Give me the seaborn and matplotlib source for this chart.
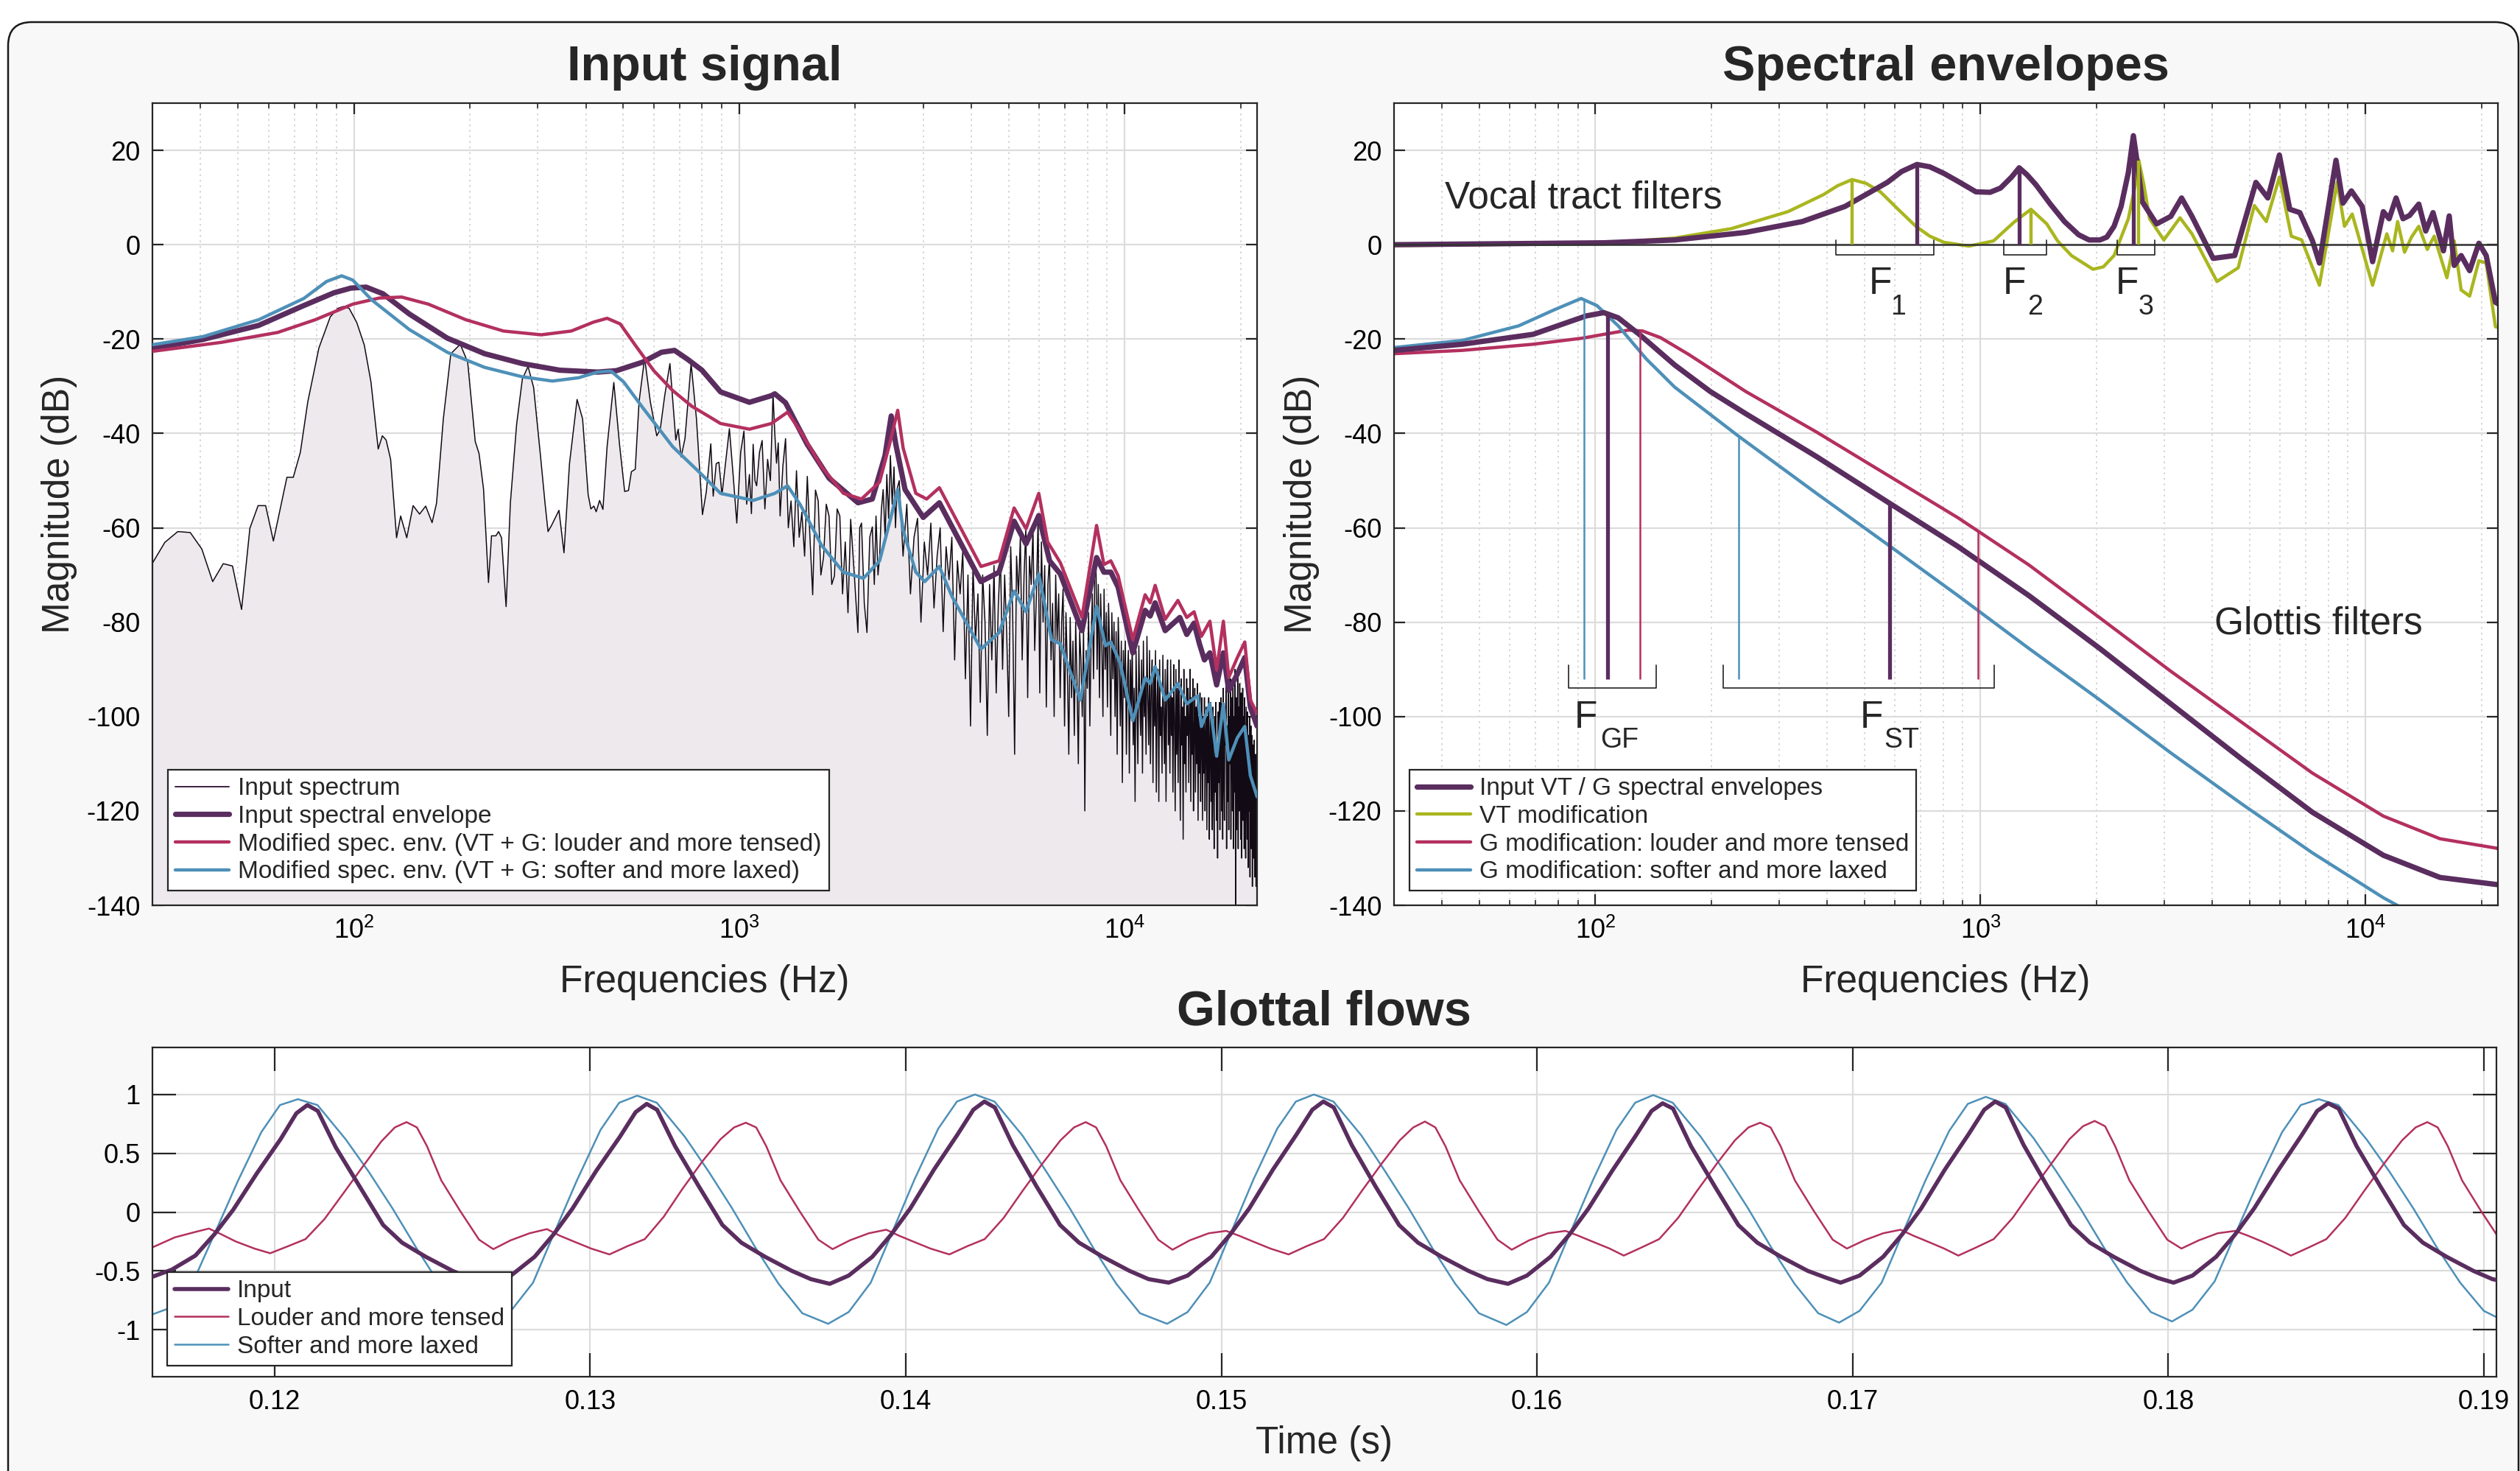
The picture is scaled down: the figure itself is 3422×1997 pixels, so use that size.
import numpy as np
import pandas as pd
import seaborn as sns
import matplotlib
matplotlib.use("Agg")
import matplotlib.pyplot as plt
from matplotlib.lines import Line2D
from matplotlib.patches import FancyBboxPatch
from matplotlib.ticker import NullFormatter, FixedLocator

# ------------------------------------------------------------------ data
# Input signal panel: measured spectrum (Hz, dB), read point by point up to 2.6 kHz
input_spectrum_low = [
    (29.9, -67.7), (32.3, -63.1), (34.9, -60.8), (37.6, -61.0), (40.3, -64.5), (43.0, -71.4),
    (45.8, -67.6), (48.4, -68.1), (51.1, -77.3), (53.7, -60.1), (56.4, -55.3), (59.0, -55.3),
    (61.8, -62.8), (67.0, -49.3), (69.6, -49.3), (72.6, -44.0), (75.9, -33.3), (81.1, -21.9),
    (86.8, -15.3), (90.8, -13.5), (93.9, -13.1), (97.2, -13.5), (101.7, -16.5), (106.4, -21.3),
    (110.7, -29.1), (115.6, -43.3), (118.5, -40.5), (121.2, -41.4), (124.5, -45.5), (129.0, -62.1),
    (132.2, -57.5), (137.1, -62.1), (142.4, -55.3), (148.0, -57.1), (153.5, -55.4), (159.5, -58.9),
    (163.8, -54.8), (170.6, -36.9), (178.4, -23.1), (188.8, -21.1), (197.3, -24.9), (206.4, -41.7),
    (211.2, -44.3), (216.9, -51.8), (223.4, -71.6), (227.5, -61.7), (233.5, -61.7), (237.3, -60.8),
    (241.5, -62.1), (248.2, -76.7), (254.6, -54.8), (264.3, -38.1), (273.5, -28.5), (283.0, -25.8),
    (292.6, -30.3), (304.7, -44.6), (313.2, -54.8), (318.9, -60.8), (325.6, -59.5), (340.4, -56.3),
    (350.8, -65.3), (362.5, -46.4), (379.3, -32.8), (392.0, -36.9), (405.3, -53.0), (411.9, -56.0),
    (419.4, -55.4), (425.2, -56.6), (433.9, -54.2), (442.7, -56.1), (453.8, -42.8), (472.4, -29.2),
    (488.6, -42.2), (504.0, -52.3), (515.6, -52.1), (524.8, -48.1), (536.9, -47.6), (549.3, -33.3),
    (567.9, -24.0), (587.5, -33.3), (610.6, -40.5), (623.3, -39.2), (640.0, -32.1), (660.6, -25.2),
    (684.2, -41.4), (693.8, -39.1), (706.3, -45.0), (722.7, -41.1), (749.7, -25.2), (774.0, -36.9),
    (802.3, -57.2), (820.9, -52.4), (843.3, -42.2), (855.5, -53.3), (871.1, -46.4), (885.0, -46.1),
    (901.5, -53.0), (942.4, -39.0), (963.6, -48.8), (985, -59.0), (1008, -44.0), (1028, -39.5),
    (1045, -55.0), (1062, -48.7), (1075, -57.0), (1086, -42.3), (1098, -50.0), (1109, -51.1),
    (1128, -44.0), (1146, -41.5), (1165, -56.0), (1184, -45.5), (1204, -50.0), (1223, -31.6),
    (1236, -40.0), (1249, -46.3), (1262, -42.0), (1276, -57.5), (1297, -47.0), (1318, -41.1),
    (1340, -60.0), (1362, -54.3), (1385, -64.0), (1407, -47.9), (1430, -62.0), (1453, -56.7),
    (1477, -66.0), (1501, -49.1), (1525, -62.0), (1550, -74.2), (1576, -52.0), (1602, -54.3),
    (1628, -70.0), (1654, -66.2), (1681, -55.0), (1709, -57.5), (1737, -72.0), (1765, -70.2),
    (1794, -56.0), (1823, -57.5), (1853, -74.0), (1883, -63.0), (1914, -78.0), (1945, -58.2),
    (1988, -70.0), (2031, -82.2), (2053, -60.0), (2075, -59.0), (2110, -76.0), (2144, -82.2),
    (2180, -62.0), (2214, -59.8), (2240, -72.0), (2263, -57.5), (2290, -70.0), (2312, -66.2),
    (2337, -56.0), (2362, -51.9), (2390, -62.0), (2414, -48.7), (2440, -58.0), (2466, -44.7),
    (2493, -55.0), (2520, -47.1), (2542, -60.0), (2564, -51.9),
]
# above 2.6 kHz the spectrum is read as one value per 60 Hz bin (2600 ... 22040 Hz)
spec_hf_start, spec_hf_step = 2600, 60
spec_hf_db = [
    -50, -66, -55, -74, -62, -58, -80, -63, -70, -59, -77, -66, -60, -82, -64, -71, -62, -88, -67, -74, -65, -92, -70, -102, -68,
    -84, -74, -97, -70, -80, -104, -72, -88, -68, -95, -76, -66, -90, -70, -82, -100, -64, -78, -108, -66, -74, -62, -88, -70, -60,
    -96, -66, -72, -60, -86, -74, -58, -95, -63, -80, -68, -98, -72, -66, -88, -76, -100, -70, -84, -74, -96, -80, -73, -102, -78,
    -90, -108, -79, -96, -84, -104, -80, -92, -110, -82, -88, -100, -81, -120, -86, -94, -78, -102, -84, -74, -92, -70, -66, -90, -72,
    -96, -74, -84, -100, -73, -90, -78, -98, -76, -86, -104, -78, -92, -80, -100, -82, -108, -79, -88, -102, -84, -114, -86, -96, -84,
    -108, -92, -86, -112, -88, -100, -84, -106, -94, -118, -86, -98, -110, -85, -96, -104, -88, -112, -84, -100, -92, -108, -83, -96, -106,
    -86, -110, -94, -88, -114, -90, -102, -86, -116, -96, -90, -118, -88, -104, -98, -112, -87, -100, -110, -90, -118, -94, -88, -106, -96,
    -112, -88, -104, -96, -116, -89, -100, -120, -90, -108, -94, -114, -88, -102, -122, -92, -106, -98, -126, -90, -110, -100, -116, -92, -104,
    -94, -114, -100, -90, -118, -96, -108, -92, -120, -102, -94, -116, -98, -110, -93, -122, -100, -112, -95, -118, -104, -96, -122, -100, -112,
    -96, -120, -104, -98, -124, -100, -114, -96, -126, -106, -97, -118, -102, -124, -98, -112, -128, -100, -116, -97, -122, -106, -130, -99, -114,
    -97, -124, -104, -96, -120, -100, -126, -94, -112, -122, -98, -106, -93, -128, -102, -118, -94, -124, -100, -110, -92, -126, -104, -96, -120,
    -92, -128, -100, -116, -90, -140, -96, -124, -106, -91, -128, -98, -120, -93, -112, -126, -95, -130, -104, -94, -122, -100, -128, -96, -116,
    -130, -98, -112, -126, -99, -132, -104, -120, -100, -134, -108, -102, -128, -104, -136, -110, -106, -130, -105, -134, -112, -108, -136, -110, -126,
]

env_in_freq = [30, 40.5, 56.6, 74.1, 88.7, 98.2, 107.6, 118.9, 139.3, 174.6,
               218.3, 273.5, 342, 428.5, 479.7, 561, 628, 679, 734.5, 800,
               894, 1062, 1211, 1236, 1318, 1500, 1710, 2032, 2213, 2388,
               2478, 2547, 2692, 3000, 3304, 3565, 4236, 4721, 5164, 5546,
               5984, 6383, 6808, 7745, 8453, 8831, 9204, 9616, 10495, 11298,
               11641, 11995, 12735, 13900, 14488, 15136, 15631, 16100, 16636, 17320,
               18030, 18620, 19600, 20490, 21184, 22050]
env_in_db = [-22.0, -20.1, -17.1, -12.9, -10.2, -9.2, -9.0, -10.4, -14.7, -19.8,
             -23.1, -25.2, -26.6, -27.0, -26.7, -24.9, -22.8, -22.4, -24.3, -26.6,
             -31.2, -33.4, -32.0, -31.6, -33.5, -42.3, -49.5, -54.7, -53.9, -44.7,
             -36.3, -42.3, -51.9, -57.8, -54.7, -59.8, -71.4, -69.4, -58.6, -63.4,
             -57.4, -67.0, -69.8, -81.8, -66.3, -69.4, -69.4, -72.6, -86.5, -77.5,
             -78.7, -75.9, -81.8, -79.0, -82.6, -80.2, -84.6, -88.0, -86.5, -93.3,
             -86.5, -94.5, -91.0, -87.5, -98.0, -102.0]

env_loud_freq = [30, 45.3, 63.4, 79.4, 99.3, 116.4, 133.0, 156.0, 195.0, 244.3,
                 306.2, 366.4, 418.8, 453.9, 490.9, 537.0, 599.8, 671.4, 751.6, 841.4,
                 894, 1062, 1211, 1334, 1439, 1637, 1862, 2075, 2312, 2466,
                 2576, 2661, 2871, 3062, 3304, 3565, 4236, 4721, 5164, 5546,
                 5984, 6310, 6808, 7745, 8453, 8831, 9204, 9616, 10495, 11298,
                 11641, 11995, 12735, 13740, 14488, 15136, 15812, 16636, 17320, 18030,
                 18620, 19600, 20490, 21184, 22050]
env_loud_db = [-22.6, -20.7, -18.6, -15.9, -12.6, -11.3, -11.1, -12.6, -15.9, -18.3,
               -19.1, -18.3, -16.4, -15.6, -16.8, -21.3, -26.7, -30.9, -34.2, -36.6,
               -37.9, -39.1, -37.9, -35.5, -39.5, -47.1, -52.7, -53.9, -50.3, -41.6,
               -35.1, -43.1, -52.7, -53.9, -51.5, -56.6, -68.2, -67.0, -55.8, -60.2,
               -52.7, -63.0, -67.4, -79.0, -59.5, -67.8, -67.0, -70.2, -83.7, -74.2,
               -75.9, -72.2, -79.4, -75.4, -79.0, -77.8, -83.0, -79.8, -90.1, -79.8,
               -91.7, -87.5, -84.2, -96.5, -99.3]

env_soft_freq = [30, 40.5, 56.6, 74.1, 84.9, 92.9, 99.3, 111.2, 139.3, 174.6,
                 218.3, 273.5, 327.3, 382.8, 428.5, 464.5, 501.2, 561.0, 671.4, 794,
                 894, 1086, 1236, 1334, 1439, 1637, 1862, 2099, 2312, 2466,
                 2576, 2661, 2871, 3027, 3304, 3565, 4236, 4721, 5164, 5546,
                 5984, 6457, 6808, 7674, 8453, 8913, 9204, 9727, 10495, 11298,
                 11641, 11995, 12735, 13740, 14488, 15452, 15812, 16636, 17320, 18030,
                 18620, 19600, 20490, 21184, 22050]
env_soft_db = [-21.2, -19.5, -15.9, -11.4, -7.8, -6.6, -7.5, -11.7, -18.0, -22.8,
               -26.0, -28.0, -28.9, -28.2, -27.0, -26.8, -29.1, -34.5, -42.8, -48.5,
               -52.7, -54.2, -52.7, -51.1, -55.1, -63.8, -69.4, -70.7, -67.0, -58.2,
               -51.9, -60.6, -69.4, -71.4, -68.2, -74.6, -85.7, -82.2, -73.4, -77.8,
               -69.8, -83.7, -84.6, -96.5, -76.6, -85.0, -84.2, -88.6, -100.9, -91.8,
               -93.0, -89.4, -96.5, -93.0, -97.3, -95.6, -102.1, -97.3, -108.4, -97.3,
               -109.2, -104.5, -102.1, -112.5, -117.0]

# Spectral envelopes panel: vocal-tract filters
vt_in_freq = [30, 105.2, 160.7, 245.5, 344.4, 444.6, 572.8, 623.7, 684, 738.5,
              803.5, 874.9, 972.9, 1059, 1127, 1203, 1260, 1321, 1393, 1518,
              1652, 1798, 1914, 2042, 2128, 2222, 2317, 2420, 2494, 2557,
              2630, 2864, 3119, 3327, 3540, 4018, 4571, 5188, 5572, 5970,
              6353, 6745, 7278, 7586, 8375, 8730, 9183, 9795, 10423, 11117,
              11508, 11995, 12503, 13002, 13740, 14322, 14962, 15922, 16482, 16982,
              17701, 18621, 19679, 20559, 21727, 22050]
vt_in_db = [0.0, 0.4, 1.0, 2.6, 4.9, 8.1, 13.2, 15.5, 17.0, 16.5,
            15.1, 13.4, 11.2, 11.1, 12.0, 14.3, 16.3, 14.8, 12.7, 8.6,
            4.9, 2.1, 1.0, 1.0, 1.6, 3.9, 8.1, 15.3, 23.1, 16.9,
            9.1, 4.4, 6.0, 9.9, 6.0, -2.9, -2.3, 13.2, 9.9, 19.0,
            7.5, 6.8, 0.8, -3.9, 17.9, 8.8, 11.4, 8.1, -3.6, 7.0,
            5.5, 9.9, 5.5, 6.2, 8.6, 2.9, 6.8, -1.3, 6.1, -4.4,
            -2.3, -5.5, 0.3, -2.3, -12.2, -12.5]

vt_mod_freq = [30, 105.2, 160.7, 225.4, 316.2, 351.6, 390.8, 425.6, 464, 504.5,
               549.5, 610.9, 679.2, 738.5, 803.5, 933.3, 1081, 1153, 1227, 1352,
               1486, 1585, 1722, 1959, 2084, 2222, 2420, 2523, 2576, 2655,
               2748, 2992, 3296, 3540, 4111, 4667, 5140, 5521, 5970, 6412,
               6823, 7586, 8433, 8810, 9226, 10423, 11350, 11749, 12106, 12618,
               13152, 13740, 14454, 15066, 16255, 16982, 17701, 18621, 19679, 20559,
               21727, 22050]
vt_mod_db = [-0.2, 0.3, 1.4, 3.4, 7.0, 8.8, 10.6, 12.5, 13.8, 13.0,
             11.2, 7.5, 3.9, 1.8, 0.5, -0.3, 0.8, 2.9, 4.9, 7.5,
             4.4, 0.8, -2.3, -5.2, -4.7, -2.3, 5.5, 12.7, 17.9, 12.7,
             5.5, 1.0, 5.7, 2.3, -7.8, -4.9, 8.3, 4.9, 14.3, 1.8,
             1.0, -8.6, 13.2, 3.9, 6.5, -8.6, 2.3, -1.3, 4.9, -1.6,
             1.6, 3.9, -1.0, 1.8, -7.0, 0.8, -9.6, -10.9, -3.4, -3.9,
             -17.4, -17.5]

# Spectral envelopes panel: glottis filters
g_in_freq = [30, 45.1, 68.9, 85.1, 94.6, 105.2, 114.6, 130.0, 160.7, 198.6, 245.5, 375.0,
             572.8, 874.9, 1337, 2042, 3119, 4764, 7278, 11117, 15596, 21878, 22050]
g_in_db = [-22.4, -21.1, -19.0, -16.4, -15.1, -14.4, -15.5, -19.0, -25.5, -31.1, -35.8, -44.9,
           -54.5, -64.0, -74.4, -85.6, -97.3, -109.0, -120.3, -129.4, -134.1, -135.6, -135.6]
g_loud_freq = [30, 45.1, 68.9, 92.7, 105.2, 121.9, 132.7, 147.6, 175.0, 245.5, 375.0,
               572.8, 874.9, 1337, 2042, 3119, 4764, 7278, 11117, 15596, 21878, 22050]
g_loud_db = [-23.1, -22.4, -21.1, -19.8, -19.0, -18.1, -18.3, -19.7, -23.3, -31.1, -39.7,
             -48.8, -57.9, -67.9, -79.1, -90.4, -101.2, -112.0, -121.1, -125.9, -127.9, -128.0]
g_soft_freq = [30, 45.1, 63.2, 78.2, 91.8, 100.9, 114.6, 135.5, 160.7, 235.5,
               375.0, 572.8, 874.9, 1337, 2042, 3119, 4764, 7278, 11117, 13183]
g_soft_db = [-21.8, -20.3, -17.2, -13.8, -11.4, -12.9, -17.2, -24.2, -30.2, -40.6,
             -52.7, -63.5, -74.4, -85.6, -96.5, -107.7, -118.5, -128.9, -138.4, -141.7]

# formant / glottal-parameter markers
vt_mark_freq = [464, 684, 1260, 1352, 2494, 2576]
vt_mark_db = [13.8, 17.0, 16.3, 7.5, 23.1, 17.9]
vt_mark_kind = ["mod", "in", "in", "mod", "in", "mod"]
vt_brackets = [(422, 755), (1148, 1486), (2259, 2831)]
vt_labels = [("1", 549.5, 611), ("2", 1227, 1383), ("3", 2399, 2692)]

g_mark_freq = [93.5, 107.5, 130.6, 235.6, 580, 986]
g_mark_db = [-11.5, -14.5, -18.3, -40.6, -54.8, -60.8]
g_mark_kind = ["soft", "in", "loud", "soft", "in", "loud"]
g_brackets = [(85.2, 143.9), (214.3, 1086)]
g_labels = [("GF", 94.6, 115.5), ("ST", 522, 623.8)]

# Glottal flows panel (time in s)
input_t = [0.11613, 0.11674, 0.11749, 0.11809, 0.11869, 0.11944, 0.12019, 0.12069, 0.12104, 0.12137, 0.12194, 0.12269, 0.12344, 0.12404, 0.12479, 0.12564, 0.12624, 0.12689,
           0.12749, 0.12824, 0.12884, 0.12944, 0.13019, 0.13094, 0.13144, 0.13179, 0.13212, 0.13269, 0.13344, 0.13419, 0.13479, 0.13554, 0.13639, 0.13699, 0.13759,
           0.13819, 0.13894, 0.13954, 0.14014, 0.14089, 0.14164, 0.14214, 0.14249, 0.14282, 0.14339, 0.14414, 0.14489, 0.14549, 0.14624, 0.14709, 0.14769, 0.14833,
           0.14893, 0.14968, 0.15028, 0.15088, 0.15163, 0.15238, 0.15288, 0.15323, 0.15356, 0.15413, 0.15488, 0.15563, 0.15623, 0.15698, 0.15783, 0.15843, 0.15908,
           0.15968, 0.16043, 0.16103, 0.16163, 0.16238, 0.16313, 0.16363, 0.16398, 0.16431, 0.16488, 0.16563, 0.16638, 0.16698, 0.16773, 0.16858, 0.16918, 0.16962,
           0.17022, 0.17097, 0.17157, 0.17217, 0.17292, 0.17367, 0.17417, 0.17452, 0.17485, 0.17542, 0.17617, 0.17692, 0.17752, 0.17827, 0.17912, 0.17967, 0.18017,
           0.18077, 0.18152, 0.18212, 0.18272, 0.18347, 0.18422, 0.18472, 0.18507, 0.18540, 0.18597, 0.18672, 0.18747, 0.18807, 0.18882, 0.18967, 0.19027, 0.19045]
input_v = [-0.55, -0.49, -0.37, -0.19, 0.02, 0.33, 0.62, 0.84, 0.91, 0.86, 0.55, 0.22, -0.11, -0.26, -0.38, -0.50, -0.57, -0.60,
           -0.54, -0.38, -0.19, 0.03, 0.35, 0.64, 0.85, 0.92, 0.87, 0.56, 0.22, -0.11, -0.26, -0.38, -0.50, -0.57, -0.61,
           -0.54, -0.38, -0.19, 0.03, 0.36, 0.66, 0.87, 0.94, 0.89, 0.57, 0.22, -0.11, -0.26, -0.38, -0.50, -0.57, -0.60,
           -0.54, -0.38, -0.19, 0.03, 0.36, 0.66, 0.87, 0.94, 0.89, 0.57, 0.22, -0.11, -0.26, -0.38, -0.50, -0.57, -0.61,
           -0.54, -0.38, -0.19, 0.03, 0.35, 0.65, 0.86, 0.925, 0.88, 0.56, 0.22, -0.11, -0.26, -0.38, -0.50, -0.56, -0.60,
           -0.54, -0.38, -0.19, 0.03, 0.36, 0.66, 0.87, 0.94, 0.89, 0.57, 0.22, -0.11, -0.26, -0.38, -0.50, -0.56, -0.60,
           -0.54, -0.38, -0.19, 0.03, 0.35, 0.65, 0.86, 0.925, 0.88, 0.56, 0.22, -0.11, -0.26, -0.38, -0.50, -0.57, -0.58]

louder_t = [0.11613, 0.11684, 0.11743, 0.11792, 0.11832, 0.11877, 0.11936, 0.11986, 0.12043, 0.12098, 0.12158, 0.12218, 0.12283, 0.12338, 0.12381, 0.12418, 0.12451, 0.12483, 0.12528, 0.12588, 0.12648, 0.12693, 0.12748, 0.12808, 0.12863, 0.12903, 0.12948, 0.13003,
            0.13061, 0.13118, 0.13173, 0.13233, 0.13293, 0.13358, 0.13413, 0.13456, 0.13493, 0.13526, 0.13558, 0.13603, 0.13663, 0.13723, 0.13768, 0.13823, 0.13883, 0.13938, 0.13978, 0.14023, 0.14078,
            0.14138, 0.14195, 0.14250, 0.14310, 0.14370, 0.14435, 0.14490, 0.14533, 0.14570, 0.14603, 0.14635, 0.14680, 0.14740, 0.14800, 0.14845, 0.14900, 0.14960, 0.15015, 0.15055, 0.15100, 0.15155,
            0.15213, 0.15270, 0.15325, 0.15385, 0.15445, 0.15510, 0.15565, 0.15608, 0.15645, 0.15678, 0.15710, 0.15755, 0.15815, 0.15875, 0.15920, 0.15975, 0.16035, 0.16090, 0.16130, 0.16175, 0.16230,
            0.16275, 0.16332, 0.16387, 0.16447, 0.16507, 0.16572, 0.16627, 0.16670, 0.16707, 0.16740, 0.16772, 0.16817, 0.16877, 0.16937, 0.16982, 0.17037, 0.17097, 0.17152, 0.17192, 0.17237, 0.17290,
            0.17335, 0.17392, 0.17447, 0.17507, 0.17567, 0.17632, 0.17687, 0.17730, 0.17767, 0.17800, 0.17832, 0.17877, 0.17937, 0.17997, 0.18042, 0.18097, 0.18157, 0.18212, 0.18252, 0.18297, 0.18345,
            0.18389, 0.18446, 0.18501, 0.18561, 0.18621, 0.18686, 0.18741, 0.18784, 0.18821, 0.18854, 0.18886, 0.18931, 0.18991, 0.19045]
louder_v = [-0.30, -0.215, -0.173, -0.14, -0.19, -0.25, -0.31, -0.35, -0.29, -0.23, -0.06, 0.16, 0.40, 0.60, 0.72, 0.765, 0.72, 0.56, 0.27, 0.01, -0.235, -0.315, -0.24, -0.18, -0.145, -0.20, -0.25, -0.31,
            -0.36, -0.29, -0.23, -0.04, 0.20, 0.44, 0.62, 0.72, 0.76, 0.72, 0.56, 0.27, 0.01, -0.235, -0.315, -0.24, -0.18, -0.15, -0.20, -0.25, -0.31,
            -0.36, -0.29, -0.23, -0.05, 0.18, 0.42, 0.61, 0.72, 0.765, 0.72, 0.56, 0.27, 0.01, -0.235, -0.32, -0.24, -0.18, -0.16, -0.20, -0.25, -0.31,
            -0.36, -0.29, -0.23, -0.05, 0.18, 0.42, 0.61, 0.72, 0.77, 0.72, 0.56, 0.27, 0.01, -0.235, -0.32, -0.24, -0.18, -0.16, -0.20, -0.25, -0.31,
            -0.37, -0.30, -0.23, -0.05, 0.18, 0.42, 0.61, 0.72, 0.76, 0.72, 0.56, 0.27, 0.01, -0.235, -0.31, -0.24, -0.18, -0.15, -0.20, -0.25, -0.31,
            -0.37, -0.30, -0.23, -0.05, 0.18, 0.42, 0.62, 0.73, 0.775, 0.73, 0.56, 0.27, 0.01, -0.235, -0.31, -0.24, -0.18, -0.16, -0.20, -0.25, -0.31,
            -0.37, -0.30, -0.23, -0.05, 0.18, 0.42, 0.61, 0.72, 0.765, 0.72, 0.56, 0.27, 0.01, -0.21]

softer_t = [0.11613, 0.11674, 0.11744, 0.11809, 0.11883, 0.11958, 0.12017, 0.12074, 0.12136, 0.12225, 0.12299, 0.12374, 0.12448, 0.12522, 0.12597, 0.12684,
            0.12749, 0.12819, 0.12884, 0.12958, 0.13033, 0.13092, 0.13149, 0.13211, 0.13300, 0.13374, 0.13449, 0.13523, 0.13597, 0.13672, 0.13754,
            0.13819, 0.13889, 0.13954, 0.14028, 0.14103, 0.14162, 0.14219, 0.14281, 0.14370, 0.14444, 0.14519, 0.14593, 0.14667, 0.14742, 0.14828,
            0.14893, 0.14963, 0.15028, 0.15102, 0.15177, 0.15236, 0.15293, 0.15355, 0.15444, 0.15518, 0.15593, 0.15667, 0.15741, 0.15816, 0.15903,
            0.15968, 0.16038, 0.16103, 0.16177, 0.16252, 0.16311, 0.16368, 0.16430, 0.16519, 0.16593, 0.16668, 0.16742, 0.16816, 0.16891, 0.16957,
            0.17022, 0.17092, 0.17157, 0.17231, 0.17306, 0.17365, 0.17422, 0.17484, 0.17573, 0.17647, 0.17722, 0.17796, 0.17870, 0.17945, 0.18012,
            0.18077, 0.18147, 0.18212, 0.18286, 0.18361, 0.18420, 0.18477, 0.18539, 0.18628, 0.18702, 0.18777, 0.18851, 0.18925, 0.19000, 0.19045]
softer_v = [-0.87, -0.81, -0.58, -0.19, 0.26, 0.68, 0.91, 0.96, 0.91, 0.62, 0.34, 0.03, -0.30, -0.61, -0.86, -0.94,
            -0.84, -0.60, -0.19, 0.27, 0.70, 0.93, 0.99, 0.93, 0.64, 0.35, 0.035, -0.30, -0.61, -0.86, -0.95,
            -0.85, -0.60, -0.19, 0.28, 0.71, 0.94, 1.00, 0.94, 0.65, 0.35, 0.035, -0.30, -0.61, -0.86, -0.95,
            -0.85, -0.60, -0.19, 0.28, 0.71, 0.94, 1.00, 0.94, 0.65, 0.35, 0.035, -0.30, -0.61, -0.86, -0.96,
            -0.85, -0.60, -0.19, 0.27, 0.70, 0.93, 0.995, 0.93, 0.64, 0.35, 0.035, -0.30, -0.61, -0.86, -0.94,
            -0.84, -0.60, -0.19, 0.27, 0.69, 0.92, 0.98, 0.92, 0.63, 0.34, 0.03, -0.30, -0.60, -0.85, -0.93,
            -0.83, -0.59, -0.19, 0.26, 0.68, 0.91, 0.96, 0.91, 0.62, 0.34, 0.03, -0.30, -0.60, -0.84, -0.90]

freq_ticks = [100, 1000, 10000]
db_ticks = list(range(-140, 21, 20))
time_ticks = [0.12, 0.13, 0.14, 0.15, 0.16, 0.17, 0.18, 0.19]
time_ticklabels = ["0.12", "0.13", "0.14", "0.15", "0.16", "0.17", "0.18", "0.19"]
flow_ticks = [-1, -0.5, 0, 0.5, 1]
flow_ticklabels = ["-1", "-0.5", "0", "0.5", "1"]

# ------------------------------------------------------------------ style
PURPLE = "#5a2d5f"
CRIMSON = "#b3305f"
BLUE = "#4e90b8"
OLIVE = "#a9b61f"
SPEC = "#120a14"
FILL = "#ede9ed"
GRID = "#dcdcdc"
AXC = "#262626"
LW_ENV, LW_MOD = 2.6, 1.6

sns.set_theme(style="white")
plt.rcParams["font.family"] = ["Liberation Sans", "DejaVu Sans"]
plt.rcParams["mathtext.fontset"] = "custom"
plt.rcParams["mathtext.rm"] = "Liberation Sans"
plt.rcParams["mathtext.it"] = "Liberation Sans:italic"
plt.rcParams["axes.unicode_minus"] = False

W, H, DPI = 3423, 1997, 200
fig = plt.figure(figsize=(W / DPI, H / DPI), dpi=DPI, facecolor="white")

# card frame
frame = FancyBboxPatch((11 / DPI, -0.6), (3420 - 11) / DPI, (H - 30) / DPI + 0.6,
                       boxstyle="round,pad=0,rounding_size=0.16",
                       transform=fig.dpi_scale_trans, facecolor="#f8f8f8",
                       edgecolor="#1a1a1a", linewidth=0.9, zorder=-10)
fig.add_artist(frame)

def px_rect(x0, y0, x1, y1):
    return [x0 / W, 1 - y1 / H, (x1 - x0) / W, (y1 - y0) / H]

ax1 = fig.add_axes(px_rect(207, 140, 1707, 1229))
ax2 = fig.add_axes(px_rect(1893, 140, 3392, 1229))
ax3 = fig.add_axes(px_rect(207, 1422, 3390, 1869))

def style_axes(ax, ticklen, minor_len):
    ax.set_facecolor("white")
    for s in ax.spines.values():
        s.set_color(AXC)
        s.set_linewidth(0.8)
        s.set_visible(True)
    ax.tick_params(which="major", direction="in", length=ticklen, width=0.8, color=AXC,
                   top=True, right=True, bottom=True, left=True, labelsize=13,
                   labelcolor="black", pad=6)
    ax.tick_params(which="minor", direction="in", length=minor_len, width=0.6, color=AXC,
                   top=True, right=True, bottom=True, left=False)
    ax.set_axisbelow(True)

for ax in (ax1, ax2):
    ax.set_xscale("log")
    ax.set_xlim(30, 22050)
    ax.set_ylim(-140, 30)
    ax.set_yticks(db_ticks)
    ax.set_yticklabels([str(v) for v in db_ticks])
    ax.xaxis.set_major_locator(FixedLocator(freq_ticks))
    ax.xaxis.set_minor_formatter(NullFormatter())
    ax.grid(True, which="major", color=GRID, lw=0.8, ls="-")
    ax.grid(True, which="minor", axis="x", color="#cfcfcf", lw=0.6, ls=(0, (1.5, 3)))
    style_axes(ax, 5.4, 2.6)

def line(ax, x, y, color, lw, z=2):
    sns.lineplot(x=list(x), y=list(y), ax=ax, color=color, linewidth=lw,
                 estimator=None, sort=False, legend=False, zorder=z)

# ---------------- panel 1: input signal
spec_freq = [p[0] for p in input_spectrum_low] + \
    [spec_hf_start + spec_hf_step * i for i in range(len(spec_hf_db))]
spec_db = [p[1] for p in input_spectrum_low] + spec_hf_db
ax1.fill_between(spec_freq, spec_db, -150, color=FILL, lw=0, zorder=1)
line(ax1, spec_freq, spec_db, SPEC, 0.55, 2)
line(ax1, env_in_freq, env_in_db, PURPLE, LW_ENV, 3)
line(ax1, env_loud_freq, env_loud_db, CRIMSON, LW_MOD, 3.1)
line(ax1, env_soft_freq, env_soft_db, BLUE, LW_MOD, 3.2)
ax1.set_xlim(30, 22050)
ax1.set_ylim(-140, 30)
ax1.set_xlabel("")
ax1.set_ylabel("")

h1 = [Line2D([], [], color="#3c1f40", lw=0.7), Line2D([], [], color=PURPLE, lw=LW_ENV),
      Line2D([], [], color=CRIMSON, lw=LW_MOD), Line2D([], [], color=BLUE, lw=LW_MOD)]
l1 = ["Input spectrum", "Input spectral envelope",
      "Modified spec. env. (VT + G: louder and more tensed)",
      "Modified spec. env. (VT + G: softer and more laxed)"]

def make_legend(ax, handles, labels, anchor):
    lg = ax.legend(handles, labels, loc="lower left", bbox_to_anchor=anchor, fontsize=12,
                   frameon=True, fancybox=False, framealpha=1, edgecolor=AXC,
                   facecolor="white", handlelength=2.2, handletextpad=0.35,
                   borderpad=0.3, labelspacing=0.2, borderaxespad=0)
    lg.get_frame().set_linewidth(0.8)
    lg.set_zorder(10)
    return lg

make_legend(ax1, h1, l1, (0.014, 0.018))

# ---------------- panel 2: spectral envelopes
ax2.axhline(0, color="#333333", lw=0.9, zorder=2.6)
line(ax2, vt_mod_freq, vt_mod_db, OLIVE, LW_MOD, 2)
line(ax2, vt_in_freq, vt_in_db, PURPLE, LW_ENV, 2.2)
line(ax2, g_loud_freq, g_loud_db, CRIMSON, LW_MOD, 2)
line(ax2, g_soft_freq, g_soft_db, BLUE, LW_MOD, 2)
line(ax2, g_in_freq, g_in_db, PURPLE, LW_ENV, 2.2)

kind_style = {"in": (PURPLE, 1.9), "mod": (OLIVE, 1.6), "loud": (CRIMSON, 0.9), "soft": (BLUE, 0.9)}
for f, d, k in zip(vt_mark_freq, vt_mark_db, vt_mark_kind):
    c, w = kind_style[k]
    ax2.vlines(f, 0, d, colors=c, lw=w, zorder=2.7)
for f, d, k in zip(g_mark_freq, g_mark_db, g_mark_kind):
    c, w = kind_style[k]
    ax2.vlines(f, -92, d, colors=c, lw=w, zorder=2.7)

for lo, hi in vt_brackets:
    ax2.plot([lo, lo, hi, hi], [1.0, -2.1, -2.1, 1.0], color="#222222", lw=0.6, zorder=2.8)
for lo, hi in g_brackets:
    ax2.plot([lo, lo, hi, hi], [-89.1, -94.0, -94.0, -89.1], color="#222222", lw=0.6, zorder=2.8)

for sub, fx, sx in vt_labels:
    ax2.text(fx, -8.3, "F", fontsize=18.5, ha="center", va="center")
    ax2.text(sx, -13.2, sub, fontsize=13.5, ha="center", va="center")
for sub, fx, sx in g_labels:
    ax2.text(fx, -100.2, "F", fontsize=18.5, ha="center", va="center")
    ax2.text(sx, -105.1, sub, fontsize=13.5, ha="center", va="center")

ax2.text(40.6, 9.9, "Vocal tract filters", fontsize=18.5, ha="left", va="center")
ax2.text(7534, -80.3, "Glottis filters", fontsize=18.5, ha="center", va="center")
ax2.set_xlim(30, 22050)
ax2.set_ylim(-140, 30)
ax2.set_xlabel("")
ax2.set_ylabel("")

h2 = [Line2D([], [], color=PURPLE, lw=LW_ENV), Line2D([], [], color=OLIVE, lw=LW_MOD),
      Line2D([], [], color=CRIMSON, lw=LW_MOD), Line2D([], [], color=BLUE, lw=LW_MOD)]
l2 = ["Input VT / G spectral envelopes", "VT modification",
      "G modification: louder and more tensed", "G modification: softer and more laxed"]
make_legend(ax2, h2, l2, (0.014, 0.018))

# ---------------- panel 3: glottal flows
line(ax3, softer_t, softer_v, BLUE, 0.9, 2)
line(ax3, louder_t, louder_v, CRIMSON, 0.9, 2)
line(ax3, input_t, input_v, PURPLE, 2.0, 3)
ax3.set_xlim(0.11613, 0.1904)
ax3.set_ylim(-1.4, 1.4)
ax3.set_xticks(time_ticks)
ax3.set_xticklabels(time_ticklabels)
ax3.set_yticks(flow_ticks)
ax3.set_yticklabels(flow_ticklabels)
ax3.grid(True, which="major", color=GRID, lw=0.8)
style_axes(ax3, 11.5, 0)
ax3.minorticks_off()
ax3.set_xlabel("")
ax3.set_ylabel("")
h3 = [Line2D([], [], color=PURPLE, lw=2.0), Line2D([], [], color=CRIMSON, lw=0.9),
      Line2D([], [], color=BLUE, lw=0.9)]
l3 = ["Input", "Louder and more tensed", "Softer and more laxed"]
make_legend(ax3, h3, l3, (0.0063, 0.034))

# ---------------- titles and axis labels
fig.text(957 / W, 1 - 92 / H, "Input signal", fontsize=24, fontweight="bold", ha="center", va="center")
fig.text(2642 / W, 1 - 92 / H, "Spectral envelopes", fontsize=24, fontweight="bold", ha="center", va="center")
fig.text(1798 / W, 1 - 1375 / H, "Glottal flows", fontsize=24, fontweight="bold", ha="center", va="center")
fig.text(957 / W, 1 - 1334 / H, "Frequencies (Hz)", fontsize=18.5, ha="center", va="center")
fig.text(2642 / W, 1 - 1334 / H, "Frequencies (Hz)", fontsize=18.5, ha="center", va="center")
fig.text(81 / W, 1 - 684 / H, "Magnitude (dB)", fontsize=18.5, rotation=90, ha="center", va="center")
fig.text(1768 / W, 1 - 684 / H, "Magnitude (dB)", fontsize=18.5, rotation=90, ha="center", va="center")
fig.text(1798 / W, 1 - 1960 / H, "Time (s)", fontsize=18.5, ha="center", va="center")

fig.savefig("out.png", dpi=DPI, facecolor="white")
